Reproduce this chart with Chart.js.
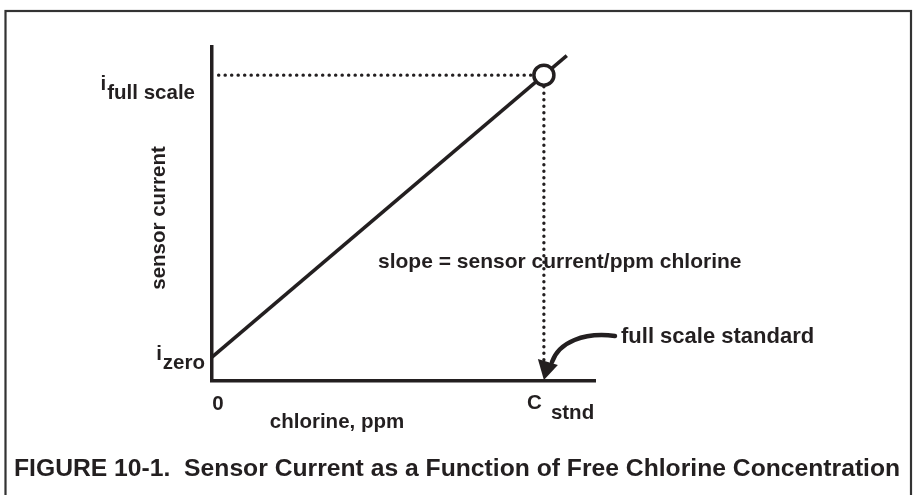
<!DOCTYPE html>
<html>
<head>
<meta charset="utf-8">
<script src="https://cdn.jsdelivr.net/npm/chart.js@4.4.1/dist/chart.umd.min.js"></script>
<style>
  html, body { margin: 0; padding: 0; background: #ffffff; }
  #wrap { position: relative; width: 914px; height: 495px; }
</style>
</head>
<body>
<div id="wrap"><canvas id="c" width="914" height="495"></canvas></div>
<script>
// Chlorine concentration, in units of the full scale standard (C stnd = 1)
const chlorinePpm = [0, 1.069];
// Sensor current, in units of the full scale current (i full scale = 1)
const sensorCurrent = [0.078, 1.064];
// Full scale calibration point
const standardPpm = [1];
const standardCurrent = [1];
// Axis extents
const xRange = [0, 1.154];
const yRange = [0, 1.092];
// Axis and annotation labels
const yLabels = { full: ['i', 'full scale'], zero: ['i', 'zero'] };
const xLabels = { zero: '0', stnd: ['C', 'stnd'] };
const xTitle = 'chlorine, ppm';
const yTitle = 'sensor current';
const slopeNote = 'slope = sensor current/ppm chlorine';
const standardNote = 'full scale standard';
const caption = 'FIGURE 10-1.  Sensor Current as a Function of Free Chlorine Concentration';

const INK = '#231f20';
const FONT = '"Liberation Sans", Arial, sans-serif';

const lineData = chlorinePpm.map((x, i) => ({ x, y: sensorCurrent[i] }));
const stdPoint = standardPpm.map((x, i) => ({ x, y: standardCurrent[i] }));
// Dotted guides run from the axes to the calibration point
const hGuide = [{ x: 0.02, y: standardCurrent[0] }, { x: standardPpm[0] - 0.033, y: standardCurrent[0] }];
const vGuide = [{ x: standardPpm[0], y: standardCurrent[0] - 0.038 }, { x: standardPpm[0], y: 0.06 }];

function bold(px) { return 'bold ' + px + 'px ' + FONT; }

function drawSub(ctx, main, sub, xRight, baseMain, baseSub, size, gap) {
  ctx.font = bold(size);
  const wSub = ctx.measureText(sub).width;
  const wMain = ctx.measureText(main).width;
  ctx.textAlign = 'left';
  ctx.textBaseline = 'alphabetic';
  ctx.fillText(sub, xRight - wSub, baseSub);
  ctx.fillText(main, xRight - wSub - gap - wMain, baseMain);
}

const annotations = {
  id: 'annotations',
  beforeDraw(chart) {
    const ctx = chart.ctx;
    ctx.save();
    ctx.fillStyle = '#ffffff';
    ctx.fillRect(0, 0, chart.width, chart.height);
    // figure frame (open at the bottom of the page)
    ctx.strokeStyle = '#333333';
    ctx.lineWidth = 2.2;
    ctx.strokeRect(5.5, 11, 905.5, 520);
    ctx.restore();
  },
  afterDraw(chart) {
    const ctx = chart.ctx;
    const xs = chart.scales.x, ys = chart.scales.y;
    const x0 = xs.getPixelForValue(0), xStd = xs.getPixelForValue(standardPpm[0]);
    const y0 = ys.getPixelForValue(0), yFull = ys.getPixelForValue(standardCurrent[0]);
    const yZero = ys.getPixelForValue(sensorCurrent[0]);
    ctx.save();
    ctx.fillStyle = INK;
    ctx.strokeStyle = INK;

    // y axis labels
    drawSub(ctx, yLabels.full[0], yLabels.full[1], x0 - 17, yFull + 15, yFull + 24, 20.5, 1);
    drawSub(ctx, yLabels.zero[0], yLabels.zero[1], x0 - 7, yZero + 3, yZero + 12, 20.5, 1);

    // x axis labels
    ctx.font = bold(20.5);
    ctx.textAlign = 'center';
    ctx.fillText(xLabels.zero, x0 + 6, y0 + 29);
    ctx.textAlign = 'left';
    ctx.fillText(xLabels.stnd[0], xStd - 17, y0 + 28);
    ctx.fillText(xLabels.stnd[1], xStd + 7, y0 + 38);

    // axis titles
    ctx.textAlign = 'center';
    ctx.fillText(xTitle, 337, y0 + 47);
    ctx.save();
    ctx.translate(165, 218);
    ctx.rotate(-Math.PI / 2);
    ctx.fillText(yTitle, 0, 0);
    ctx.restore();

    // notes
    ctx.textAlign = 'left';
    ctx.font = bold(21);
    ctx.fillText(slopeNote, 378, 268);
    ctx.font = bold(22);
    ctx.fillText(standardNote, 621, 343);

    // curved arrow pointing at the standard on the x axis
    const tipX = xStd, tipY = y0 - 1;
    ctx.lineWidth = 4.5;
    ctx.lineCap = 'round';
    ctx.beginPath();
    ctx.moveTo(615, 336);
    ctx.bezierCurveTo(584, 332, 559, 342, 552, 362);
    ctx.stroke();
    ctx.beginPath();
    ctx.moveTo(tipX, tipY);
    ctx.lineTo(tipX - 6, tipY - 21);
    ctx.lineTo(tipX + 14, tipY - 15);
    ctx.closePath();
    ctx.fill();

    // caption
    ctx.font = bold(24.7);
    ctx.textAlign = 'left';
    ctx.fillText(caption, 14, 476);
    ctx.restore();
  }
};

new Chart(document.getElementById('c'), {
  type: 'scatter',
  data: {
    datasets: [
      { data: lineData, showLine: true, borderColor: INK, borderWidth: 3.5, pointRadius: 0, order: 3 },
      { data: hGuide, showLine: true, borderColor: INK, borderWidth: 3.4, borderDash: [0.1, 6.4], borderCapStyle: 'round', pointRadius: 0, order: 2 },
      { data: vGuide, showLine: true, borderColor: INK, borderWidth: 3.4, borderDash: [0.1, 6.4], borderCapStyle: 'round', pointRadius: 0, order: 2 },
      { data: stdPoint, showLine: false, pointRadius: 10, pointBorderWidth: 3.5, pointBorderColor: INK, pointBackgroundColor: '#ffffff', order: 1 }
    ]
  },
  options: {
    responsive: false,
    animation: false,
    events: [],
    layout: { padding: { left: 212, right: 319, top: 47, bottom: 114 } },
    plugins: { legend: { display: false }, tooltip: { enabled: false } },
    scales: {
      x: {
        type: 'linear', min: xRange[0], max: xRange[1],
        grid: { display: false, drawTicks: false },
        ticks: { display: false },
        border: { display: true, color: INK, width: 3.5 },
        afterFit(s) { s.height = 0; }
      },
      y: {
        type: 'linear', min: yRange[0], max: yRange[1],
        grid: { display: false, drawTicks: false },
        ticks: { display: false },
        border: { display: true, color: INK, width: 3.5 },
        afterFit(s) { s.width = 0; }
      }
    }
  },
  plugins: [annotations]
});
</script>
</body>
</html>
